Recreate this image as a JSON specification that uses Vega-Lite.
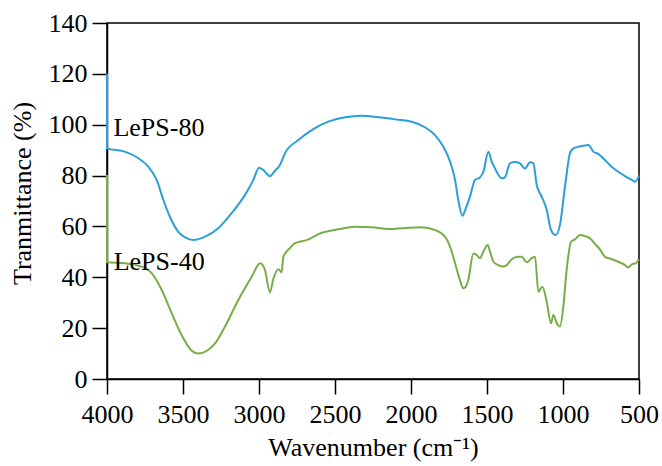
{
  "$schema": "https://vega.github.io/schema/vega-lite/v6.json",
  "width": 532,
  "height": 356,
  "autosize": {"type": "none"},
  "padding": {"left": 107, "top": 23, "right": 23, "bottom": 87},
  "background": "white",
  "config": {
    "view": {"stroke": "black", "strokeWidth": 1.5},
    "font": "Liberation Serif",
    "axis": {
      "grid": false,
      "domainColor": "black",
      "domainWidth": 1.5,
      "tickColor": "black",
      "tickWidth": 1.5,
      "labelColor": "black",
      "labelFont": "Liberation Serif",
      "labelFontSize": 26,
      "titleFont": "Liberation Serif",
      "titleFontSize": 26,
      "titleFontWeight": "normal",
      "titleColor": "black",
      "labelFlush": false,
      "labelOverlap": false
    }
  },
  "datasets": {
    "spectra": [
      {"series": "LePS-80", "i": 1, "x": 4000, "y": 120},
      {"series": "LePS-80", "i": 2, "x": 4000, "y": 90.7},
      {"series": "LePS-80", "i": 3, "x": 3882, "y": 89.4},
      {"series": "LePS-80", "i": 4, "x": 3794, "y": 86.8},
      {"series": "LePS-80", "i": 5, "x": 3728, "y": 83.5},
      {"series": "LePS-80", "i": 6, "x": 3673, "y": 78.3},
      {"series": "LePS-80", "i": 7, "x": 3629, "y": 70.4},
      {"series": "LePS-80", "i": 8, "x": 3586, "y": 63.8},
      {"series": "LePS-80", "i": 9, "x": 3531, "y": 57.9},
      {"series": "LePS-80", "i": 10, "x": 3480, "y": 55.5},
      {"series": "LePS-80", "i": 11, "x": 3432, "y": 54.7},
      {"series": "LePS-80", "i": 12, "x": 3355, "y": 56},
      {"series": "LePS-80", "i": 13, "x": 3268, "y": 59.3},
      {"series": "LePS-80", "i": 14, "x": 3180, "y": 65.2},
      {"series": "LePS-80", "i": 15, "x": 3092, "y": 72.4},
      {"series": "LePS-80", "i": 16, "x": 3037, "y": 78.3},
      {"series": "LePS-80", "i": 17, "x": 3000, "y": 83.1},
      {"series": "LePS-80", "i": 18, "x": 2972, "y": 82.2},
      {"series": "LePS-80", "i": 19, "x": 2928, "y": 79.8},
      {"series": "LePS-80", "i": 20, "x": 2895, "y": 81.9},
      {"series": "LePS-80", "i": 21, "x": 2862, "y": 84.2},
      {"series": "LePS-80", "i": 22, "x": 2829, "y": 88.8},
      {"series": "LePS-80", "i": 23, "x": 2741, "y": 94},
      {"series": "LePS-80", "i": 24, "x": 2653, "y": 97.9},
      {"series": "LePS-80", "i": 25, "x": 2544, "y": 101.2},
      {"series": "LePS-80", "i": 26, "x": 2434, "y": 102.9},
      {"series": "LePS-80", "i": 27, "x": 2324, "y": 103.5},
      {"series": "LePS-80", "i": 28, "x": 2215, "y": 102.9},
      {"series": "LePS-80", "i": 29, "x": 2105, "y": 102.1},
      {"series": "LePS-80", "i": 30, "x": 1995, "y": 101.2},
      {"series": "LePS-80", "i": 31, "x": 1908, "y": 99},
      {"series": "LePS-80", "i": 32, "x": 1842, "y": 95.9},
      {"series": "LePS-80", "i": 33, "x": 1787, "y": 91.3},
      {"series": "LePS-80", "i": 34, "x": 1743, "y": 85.5},
      {"series": "LePS-80", "i": 35, "x": 1710, "y": 78.3},
      {"series": "LePS-80", "i": 36, "x": 1689, "y": 70.4},
      {"series": "LePS-80", "i": 37, "x": 1662, "y": 64.2},
      {"series": "LePS-80", "i": 38, "x": 1640, "y": 67},
      {"series": "LePS-80", "i": 39, "x": 1612, "y": 71.7},
      {"series": "LePS-80", "i": 40, "x": 1579, "y": 78.3},
      {"series": "LePS-80", "i": 41, "x": 1546, "y": 79.3},
      {"series": "LePS-80", "i": 42, "x": 1524, "y": 81.5},
      {"series": "LePS-80", "i": 43, "x": 1491, "y": 89.4},
      {"series": "LePS-80", "i": 44, "x": 1469, "y": 85.5},
      {"series": "LePS-80", "i": 45, "x": 1447, "y": 82.8},
      {"series": "LePS-80", "i": 46, "x": 1403, "y": 78.9},
      {"series": "LePS-80", "i": 47, "x": 1382, "y": 79.3},
      {"series": "LePS-80", "i": 48, "x": 1349, "y": 84.8},
      {"series": "LePS-80", "i": 49, "x": 1316, "y": 85.3},
      {"series": "LePS-80", "i": 50, "x": 1283, "y": 84.8},
      {"series": "LePS-80", "i": 51, "x": 1250, "y": 82.8},
      {"series": "LePS-80", "i": 52, "x": 1217, "y": 85.2},
      {"series": "LePS-80", "i": 53, "x": 1195, "y": 84.8},
      {"series": "LePS-80", "i": 54, "x": 1173, "y": 76.3},
      {"series": "LePS-80", "i": 55, "x": 1140, "y": 71.7},
      {"series": "LePS-80", "i": 56, "x": 1107, "y": 66.5},
      {"series": "LePS-80", "i": 57, "x": 1079, "y": 58.6},
      {"series": "LePS-80", "i": 58, "x": 1048, "y": 56.6},
      {"series": "LePS-80", "i": 59, "x": 1020, "y": 60.6},
      {"series": "LePS-80", "i": 60, "x": 987, "y": 75.6},
      {"series": "LePS-80", "i": 61, "x": 954, "y": 88.8},
      {"series": "LePS-80", "i": 62, "x": 932, "y": 90.7},
      {"series": "LePS-80", "i": 63, "x": 899, "y": 91.3},
      {"series": "LePS-80", "i": 64, "x": 866, "y": 91.7},
      {"series": "LePS-80", "i": 65, "x": 833, "y": 92},
      {"series": "LePS-80", "i": 66, "x": 800, "y": 89.4},
      {"series": "LePS-80", "i": 67, "x": 768, "y": 88.5},
      {"series": "LePS-80", "i": 68, "x": 724, "y": 86.1},
      {"series": "LePS-80", "i": 69, "x": 680, "y": 83.5},
      {"series": "LePS-80", "i": 70, "x": 636, "y": 81.5},
      {"series": "LePS-80", "i": 71, "x": 592, "y": 79.8},
      {"series": "LePS-80", "i": 72, "x": 548, "y": 78.3},
      {"series": "LePS-80", "i": 73, "x": 526, "y": 77.6},
      {"series": "LePS-80", "i": 74, "x": 500, "y": 80},
      {"series": "LePS-40", "i": 1, "x": 4000, "y": 80.2},
      {"series": "LePS-40", "i": 2, "x": 4000, "y": 45.9},
      {"series": "LePS-40", "i": 3, "x": 3882, "y": 45.5},
      {"series": "LePS-40", "i": 4, "x": 3772, "y": 44.2},
      {"series": "LePS-40", "i": 5, "x": 3706, "y": 41.6},
      {"series": "LePS-40", "i": 6, "x": 3640, "y": 35},
      {"series": "LePS-40", "i": 7, "x": 3574, "y": 25.8},
      {"series": "LePS-40", "i": 8, "x": 3509, "y": 17.3},
      {"series": "LePS-40", "i": 9, "x": 3450, "y": 11.6},
      {"series": "LePS-40", "i": 10, "x": 3400, "y": 10},
      {"series": "LePS-40", "i": 11, "x": 3340, "y": 11.2},
      {"series": "LePS-40", "i": 12, "x": 3289, "y": 14},
      {"series": "LePS-40", "i": 13, "x": 3224, "y": 20.6},
      {"series": "LePS-40", "i": 14, "x": 3136, "y": 31.1},
      {"series": "LePS-40", "i": 15, "x": 3048, "y": 40.2},
      {"series": "LePS-40", "i": 16, "x": 2993, "y": 45.5},
      {"series": "LePS-40", "i": 17, "x": 2961, "y": 42.9},
      {"series": "LePS-40", "i": 18, "x": 2928, "y": 34},
      {"series": "LePS-40", "i": 19, "x": 2906, "y": 39.3},
      {"series": "LePS-40", "i": 20, "x": 2873, "y": 43.2},
      {"series": "LePS-40", "i": 21, "x": 2851, "y": 42},
      {"series": "LePS-40", "i": 22, "x": 2840, "y": 48},
      {"series": "LePS-40", "i": 23, "x": 2796, "y": 51.5},
      {"series": "LePS-40", "i": 24, "x": 2763, "y": 53.4},
      {"series": "LePS-40", "i": 25, "x": 2686, "y": 54.6},
      {"series": "LePS-40", "i": 26, "x": 2587, "y": 57.5},
      {"series": "LePS-40", "i": 27, "x": 2478, "y": 58.9},
      {"series": "LePS-40", "i": 28, "x": 2368, "y": 59.9},
      {"series": "LePS-40", "i": 29, "x": 2259, "y": 59.7},
      {"series": "LePS-40", "i": 30, "x": 2149, "y": 59},
      {"series": "LePS-40", "i": 31, "x": 2039, "y": 59.4},
      {"series": "LePS-40", "i": 32, "x": 1930, "y": 59.7},
      {"series": "LePS-40", "i": 33, "x": 1842, "y": 58.6},
      {"series": "LePS-40", "i": 34, "x": 1776, "y": 56},
      {"series": "LePS-40", "i": 35, "x": 1743, "y": 52},
      {"series": "LePS-40", "i": 36, "x": 1710, "y": 45.5},
      {"series": "LePS-40", "i": 37, "x": 1678, "y": 38.9},
      {"series": "LePS-40", "i": 38, "x": 1656, "y": 35.7},
      {"series": "LePS-40", "i": 39, "x": 1645, "y": 35.9},
      {"series": "LePS-40", "i": 40, "x": 1623, "y": 38.9},
      {"series": "LePS-40", "i": 41, "x": 1590, "y": 49.4},
      {"series": "LePS-40", "i": 42, "x": 1568, "y": 48.8},
      {"series": "LePS-40", "i": 43, "x": 1546, "y": 47.5},
      {"series": "LePS-40", "i": 44, "x": 1524, "y": 50.1},
      {"series": "LePS-40", "i": 45, "x": 1495, "y": 52.7},
      {"series": "LePS-40", "i": 46, "x": 1480, "y": 50.1},
      {"series": "LePS-40", "i": 47, "x": 1458, "y": 46.1},
      {"series": "LePS-40", "i": 48, "x": 1426, "y": 44.8},
      {"series": "LePS-40", "i": 49, "x": 1393, "y": 44.2},
      {"series": "LePS-40", "i": 50, "x": 1370, "y": 44.8},
      {"series": "LePS-40", "i": 51, "x": 1337, "y": 47.1},
      {"series": "LePS-40", "i": 52, "x": 1294, "y": 48.1},
      {"series": "LePS-40", "i": 53, "x": 1272, "y": 48.1},
      {"series": "LePS-40", "i": 54, "x": 1239, "y": 45.9},
      {"series": "LePS-40", "i": 55, "x": 1206, "y": 47.5},
      {"series": "LePS-40", "i": 56, "x": 1184, "y": 48.1},
      {"series": "LePS-40", "i": 57, "x": 1162, "y": 34.3},
      {"series": "LePS-40", "i": 58, "x": 1136, "y": 36.3},
      {"series": "LePS-40", "i": 59, "x": 1107, "y": 30.4},
      {"series": "LePS-40", "i": 60, "x": 1079, "y": 21.9},
      {"series": "LePS-40", "i": 61, "x": 1063, "y": 25.2},
      {"series": "LePS-40", "i": 62, "x": 1041, "y": 21.9},
      {"series": "LePS-40", "i": 63, "x": 1020, "y": 20.6},
      {"series": "LePS-40", "i": 64, "x": 998, "y": 28.4},
      {"series": "LePS-40", "i": 65, "x": 976, "y": 42.9},
      {"series": "LePS-40", "i": 66, "x": 947, "y": 54},
      {"series": "LePS-40", "i": 67, "x": 921, "y": 54.9},
      {"series": "LePS-40", "i": 68, "x": 888, "y": 56.6},
      {"series": "LePS-40", "i": 69, "x": 855, "y": 56.2},
      {"series": "LePS-40", "i": 70, "x": 822, "y": 55.3},
      {"series": "LePS-40", "i": 71, "x": 789, "y": 53.1},
      {"series": "LePS-40", "i": 72, "x": 757, "y": 51},
      {"series": "LePS-40", "i": 73, "x": 724, "y": 48.1},
      {"series": "LePS-40", "i": 74, "x": 680, "y": 47.1},
      {"series": "LePS-40", "i": 75, "x": 636, "y": 46.1},
      {"series": "LePS-40", "i": 76, "x": 592, "y": 44.8},
      {"series": "LePS-40", "i": 77, "x": 570, "y": 43.8},
      {"series": "LePS-40", "i": 78, "x": 548, "y": 45.1},
      {"series": "LePS-40", "i": 79, "x": 522, "y": 45.5},
      {"series": "LePS-40", "i": 80, "x": 500, "y": 47.1}
    ],
    "labels": [
      {"label": "LePS-80", "x": 3958, "y": 95.6},
      {"label": "LePS-40", "x": 3956, "y": 42.9}
    ]
  },
  "layer": [
    {
      "data": {"name": "spectra"},
      "mark": {"type": "line", "strokeWidth": 2, "interpolate": "monotone"},
      "encoding": {
        "x": {
          "field": "x",
          "type": "quantitative",
          "scale": {"domain": [500, 4000], "reverse": true, "nice": false},
          "axis": {
            "values": [500, 1000, 1500, 2000, 2500, 3000, 3500, 4000],
            "format": "d",
            "tickSize": 15,
            "labelPadding": 7,
            "title": "Wavenumber (cm⁻¹)",
            "titleY": 76,
            "titleBaseline": "alphabetic"
          }
        },
        "y": {
          "field": "y",
          "type": "quantitative",
          "scale": {"domain": [0, 140], "nice": false},
          "axis": {
            "values": [0, 10, 20, 30, 40, 50, 60, 70, 80, 90, 100, 110, 120, 130, 140],
            "tickSize": {"condition": {"test": "datum.value % 20 === 0", "value": 15}, "value": 7},
            "labelExpr": "datum.value % 20 === 0 ? datum.label : ''",
            "labelPadding": 5,
            "title": "Tranmittance (%)",
            "titleX": -85,
            "titleY": 170,
            "titleBaseline": "middle"
          }
        },
        "order": {"field": "i", "type": "quantitative"},
        "color": {
          "field": "series",
          "type": "nominal",
          "scale": {"domain": ["LePS-80", "LePS-40"], "range": ["#2b9fd9", "#78ad46"]},
          "legend": null
        }
      }
    },
    {
      "data": {"name": "labels"},
      "mark": {"type": "text", "align": "left", "baseline": "alphabetic", "fontSize": 26, "font": "Liberation Serif", "color": "black"},
      "encoding": {
        "x": {"field": "x", "type": "quantitative"},
        "y": {"field": "y", "type": "quantitative"},
        "text": {"field": "label"}
      }
    }
  ]
}
